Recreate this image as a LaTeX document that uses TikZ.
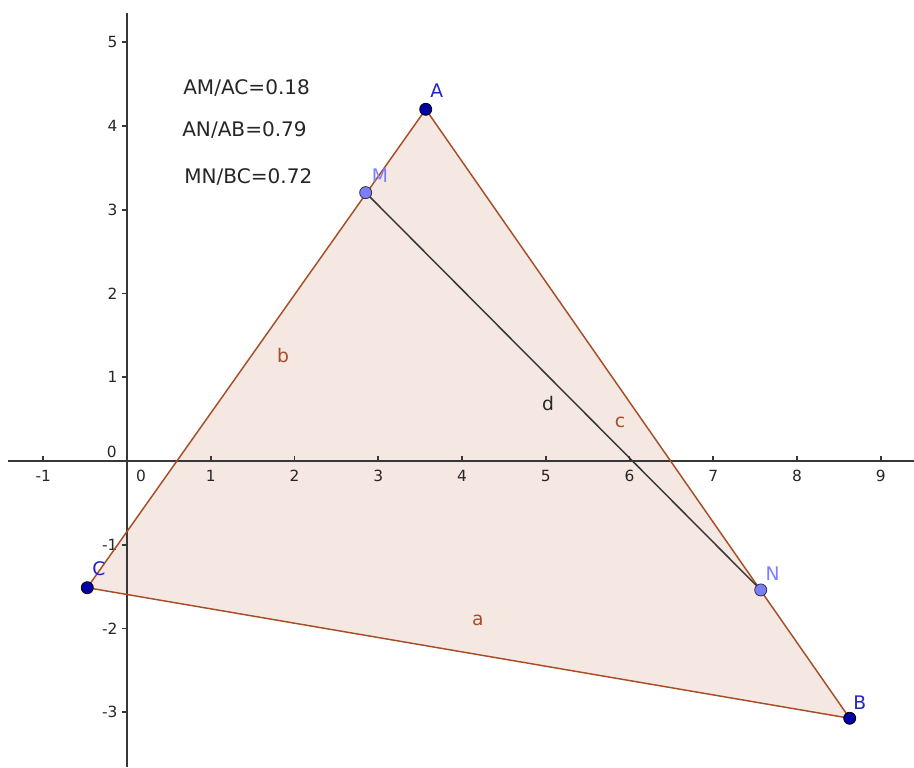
\documentclass[tikz,border=0pt]{standalone}
\usepackage{fontspec}
\setmainfont{DejaVu Sans}
\usepackage{tikz}
\usetikzlibrary{positioning}
\definecolor{edgebrown}{RGB}{168,78,38}
\definecolor{fillbrown}{RGB}{245,232,226}
\definecolor{ptdark}{RGB}{0,0,165}
\definecolor{lbldark}{RGB}{35,35,200}
\definecolor{ptlight}{RGB}{125,125,255}
\definecolor{axisgray}{RGB}{55,55,55}
\tikzset{
  axis/.style={draw=axisgray, line width=1.3pt},
  ticklbl/.style={font=\fontsize{11.5}{13}\selectfont, text=black!85, inner sep=0pt},
  ratio/.style={font=\fontsize{15}{17}\selectfont, text=black!85, anchor=west, inner sep=0pt},
  sidelbl/.style={font=\fontsize{14}{16}\selectfont, text=edgebrown, inner sep=0pt},
  ptlbl/.style={font=\fontsize{14}{16}\selectfont, inner sep=0pt},
  vertex/.style={circle, draw=black, fill=ptdark, minimum size=9pt, inner sep=0pt, line width=0.6pt},
  onside/.style={circle, draw=black!80, fill=ptlight, minimum size=9pt, inner sep=0pt, line width=0.6pt}
}

\begin{document}
\begin{tikzpicture}[x=2.2cm, y=2.2cm]
  \useasboundingbox (-1.516,-3.654) rectangle (9.397,5.504);

  % points
  \coordinate (A) at (3.567,4.199);
  \coordinate (B) at (8.629,-3.072);
  \coordinate (C) at (-0.474,-1.513);
  \coordinate (M) at (2.850,3.204);
  \coordinate (N) at (7.567,-1.540);

  % triangle fill under the axes
  \fill[fillbrown] (A) -- (B) -- (C) -- cycle;

  % axes
  \draw[axis] (-1.42,0) -- (9.397,0);
  \draw[axis] (0,-3.654) -- (0,5.35);
  \foreach \i in {-1,1,2,...,9} {
    \draw[axis] (\i,0) -- ++(0,0.065);
    \node[ticklbl] (xl\i) at (\i,-0.18) {\i};
  }
  \node[ticklbl] (xl0) at (0.167,-0.18) {0};
  \foreach \j in {-3,-2,-1,1,2,...,5} {
    \draw[axis] (0,\j) -- ++(-0.065,0);
    \node[ticklbl, anchor=east] (yl\j) at (-0.11,\j) {\j};
  }
  \node[ticklbl, anchor=east] (yl0) at (-0.12,0.11) {0};

  % sides and segment
  \draw[draw=edgebrown, line width=1.1pt, line join=round] (A) -- (B) -- (C) -- cycle;
  \draw[draw=axisgray, line width=1.1pt] (M) -- (N);

  \node[sidelbl] (la) at (4.19,-1.90) {a};
  \node[sidelbl] (lb) at (1.863,1.254) {b};
  \node[sidelbl] (lc) at (5.887,0.466) {c};
  \node[sidelbl, text=black!85] (ld) at (5.027,0.681) {d};

  \node[vertex] (dotA) at (A) {};
  \node[vertex] (dotB) at (B) {};
  \node[vertex] (dotC) at (C) {};
  \node[onside] (dotM) at (M) {};
  \node[onside] (dotN) at (N) {};

  \node[ptlbl, text=lbldark] (lblA) at (3.70,4.418) {A};
  \node[ptlbl, text=lbldark] (lblB) at (8.75,-2.88) {B};
  \node[ptlbl, text=lbldark] (lblC) at (-0.334,-1.29) {C};
  \node[ptlbl, text=ptlight] (lblM) at (3.02,3.403) {M};
  \node[ptlbl, text=ptlight] (lblN) at (7.71,-1.35) {N};

  % ratios
  \node[ratio] (r1) at (0.669,4.45) {AM/AC=0.18};
  \node[ratio] (r2) at (0.657,3.95) {AN/AB=0.79};
  \node[ratio] (r3) at (0.681,3.39) {MN/BC=0.72};
\end{tikzpicture}
\end{document}
